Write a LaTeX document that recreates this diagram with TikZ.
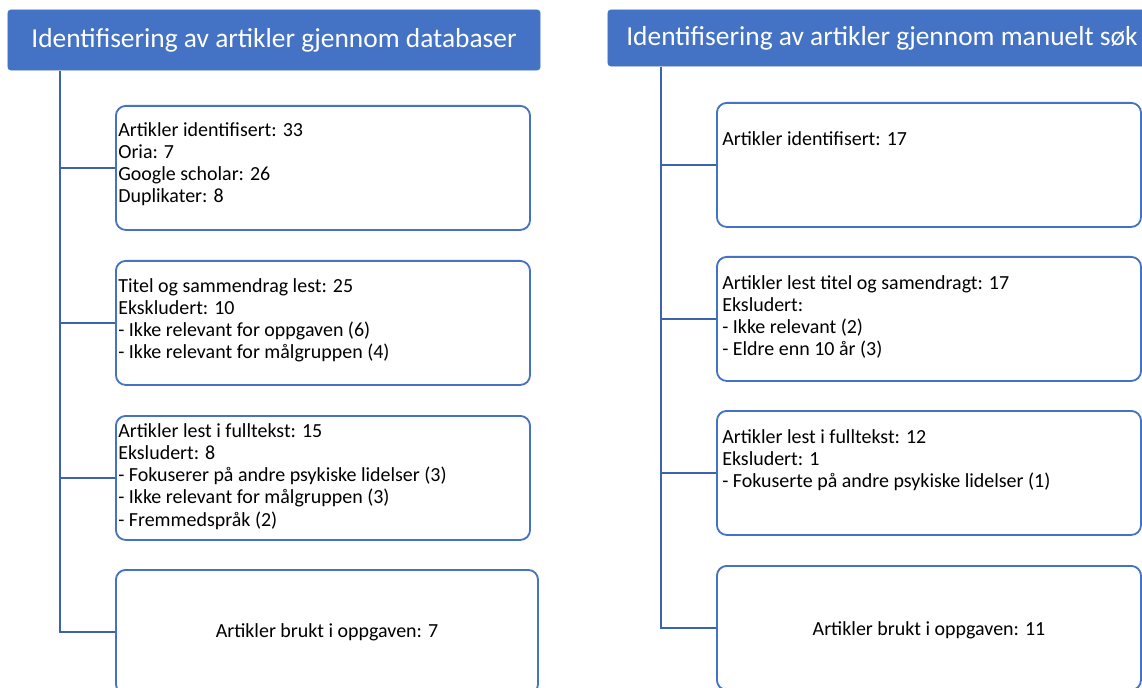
\documentclass[tikz,border=0pt]{standalone}
\usepackage{fontspec}
\setmainfont{Carlito}
\usetikzlibrary{positioning}
\definecolor{hdblue}{HTML}{4472C4}
\definecolor{lnblue}{HTML}{3B63AE}
\tikzset{
 header/.style={fill=hdblue,draw=hdblue,rounded corners=2pt,text=white,
   font=\fontsize{19.5}{22}\selectfont,inner sep=0pt},
 stepbox/.style={draw=hdblue,line width=1.3pt,rounded corners=7pt,anchor=north west,
   inner sep=0pt,minimum width=10.35cm,minimum height=3.1cm},
 boxtext/.style={anchor=north west,align=left,inner sep=0pt,
   font=\fontsize{14.2}{15.8}\selectfont},
 link/.style={draw=lnblue,line width=1.3pt},
}
\begin{document}
\begin{tikzpicture}[x=0.025cm,y=-0.025cm]
    \useasboundingbox (0,0) rectangle (1142,688);
    \clip (0,0) rectangle (1142,688);
    % headers
    \node[header,minimum width=13.3cm,minimum height=1.5cm] (hdL) at (274,40)
        {Identifisering av artikler gjennom databaser};
    \node[header,minimum width=13.7cm,minimum height=1.4cm] (hdR) at (882,38)
        {Identifisering av artikler gjennom manuelt søk};
    % left column
    \node[stepbox] (L1) at (115,105) {};
    \node[stepbox] (L2) at (115,260) {};
    \node[stepbox] (L3) at (115,415) {};
    \node[stepbox,minimum width=10.55cm] (L4) at (115,569) {};
    \node[boxtext] (tL1) at (118,122) {Artikler identifisert: 33\\Oria: 7\\Google scholar: 26\\Duplikater: 8};
    \node[boxtext] (tL2) at (118,278) {Titel og sammendrag lest: 25\\Ekskludert: 10\\- Ikke relevant for oppgaven (6)\\- Ikke relevant for målgruppen (4)};
    \node[boxtext] (tL3) at (118,423) {Artikler lest i fulltekst: 15\\Eksludert: 8\\- Fokuserer på andre psykiske lidelser (3)\\- Ikke relevant for målgruppen (3)\\- Fremmedspråk (2)};
    \node[font=\fontsize{14.2}{15.8}\selectfont,inner sep=0pt] (tL4) at (L4.center) {Artikler brukt i oppgaven: 7};
    \coordinate (trunkL) at (60,71);
    \draw[link] (trunkL) |- (L4.west);
    \foreach \b in {L1,L2,L3}
        \draw[link] (trunkL |- \b.west) -- (\b.west);
    % right column
    \node[stepbox,minimum width=10.6cm] (R1) at (716,102) {};
    \node[stepbox,minimum width=10.6cm] (R2) at (716,256) {};
    \node[stepbox,minimum width=10.6cm] (R3) at (716,410) {};
    \node[stepbox,minimum width=10.6cm] (R4) at (716,565) {};
    \node[boxtext] (tR1) at (722,131) {Artikler identifisert: 17};
    \node[boxtext] (tR2) at (722,275) {Artikler lest titel og samendragt: 17\\Eksludert:\\- Ikke relevant (2)\\- Eldre enn 10 år (3)};
    \node[boxtext] (tR3) at (722,429) {Artikler lest i fulltekst: 12\\Eksludert: 1\\- Fokuserte på andre psykiske lidelser (1)};
    \node[font=\fontsize{14.2}{15.8}\selectfont,inner sep=0pt] (tR4) at ([yshift=-0.05cm]R4.center) {Artikler brukt i oppgaven: 11};
    \coordinate (trunkR) at (661,67);
    \draw[link] (trunkR) |- (R4.west);
    \foreach \b in {R1,R2,R3}
        \draw[link] (trunkR |- \b.west) -- (\b.west);
\end{tikzpicture}
\end{document}
